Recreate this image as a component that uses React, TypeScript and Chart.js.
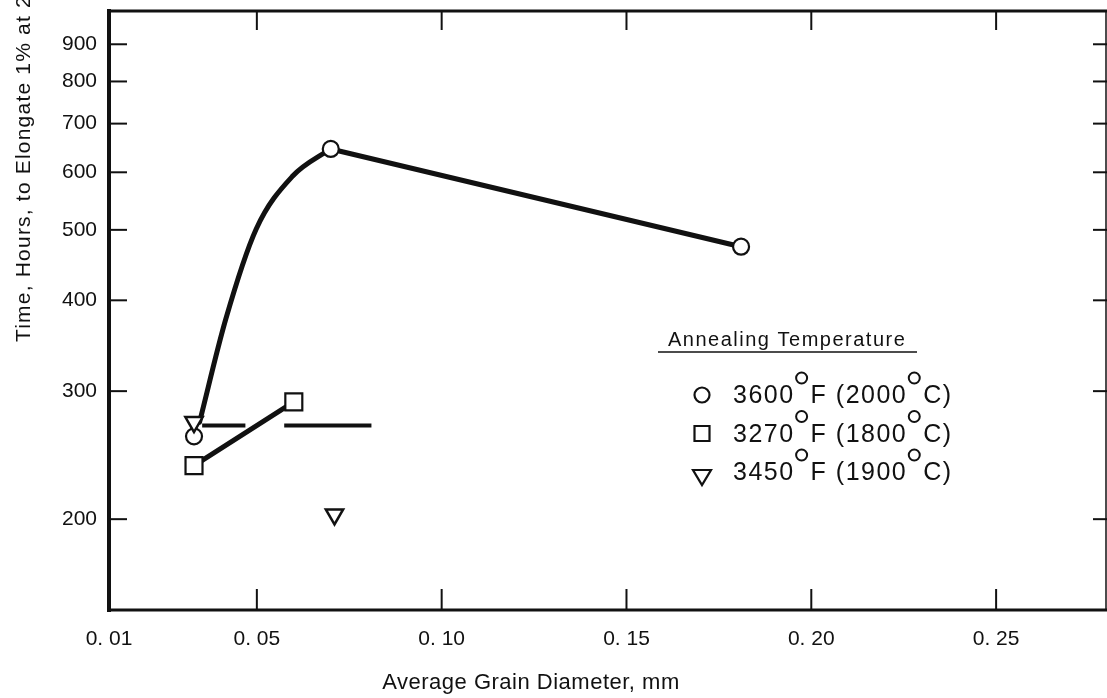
import { useEffect, useRef } from "react";
import { Chart, registerables } from "chart.js";

Chart.register(...registerables);

const FONT = "'Liberation Sans', Arial, sans-serif";
const INK = "#111111";
const CLEAR = "rgba(0,0,0,0)";
const WIDTH = 1107;
const HEIGHT = 698;

// Axis ticks
const xTickValues = [0.01, 0.05, 0.1, 0.15, 0.2, 0.25];
const xTickLabels = ["0. 01", "0. 05", "0. 10", "0. 15", "0. 20", "0. 25"];
const yTickValues = [200, 300, 400, 500, 600, 700, 800, 900];

// 3600°F (2000°C) anneal
const circleX = [0.033, 0.07, 0.181];
const circleY = [260, 646, 474];
// 3270°F (1800°C) anneal
const squareX = [0.033, 0.06];
const squareY = [237, 290];
// 3450°F (1900°C) anneal
const triangleX = [0.033, 0.071];
const triangleY = [272, 203];
// faired curve rising to the 0.07 mm peak
const curveX = [0.0345, 0.0416, 0.0498, 0.0597, 0.0696];
const curveY = [272, 377, 501, 593, 645];
// broken level line at the 3450°F value
const levelX = [0.0352, 0.0469, 0.0574, 0.081];
const levelY = [269, 269, 269, 269];

const legendTitle = "Annealing Temperature";
const legendF = ["3600", "3270", "3450"];
const legendC = ["2000", "1800", "1900"];
const legendMarkers = ["circle", "rect", "triangle"];

const xTitle = "Average Grain Diameter, mm";
const yTitle = "Time, Hours, to Elongate 1% at 2";

const pts = (xs: number[], ys: number[]) => xs.map((x, i) => ({ x, y: ys[i] }));

function seg(ctx: CanvasRenderingContext2D, x1: number, y1: number, x2: number, y2: number, w: number) {
  ctx.lineWidth = w;
  ctx.beginPath();
  ctx.moveTo(x1, y1);
  ctx.lineTo(x2, y2);
  ctx.stroke();
}

function drawMarker(ctx: CanvasRenderingContext2D, kind: string, x: number, y: number) {
  ctx.save();
  ctx.lineWidth = 2.2;
  ctx.fillStyle = "#fff";
  ctx.beginPath();
  if (kind === "circle") {
    ctx.arc(x, y, 7.5, 0, Math.PI * 2);
  } else if (kind === "rect") {
    ctx.rect(x - 7.5, y - 7.5, 15, 15);
  } else {
    ctx.moveTo(x - 9, y - 6);
    ctx.lineTo(x + 9, y - 6);
    ctx.lineTo(x, y + 9);
    ctx.closePath();
  }
  ctx.fill();
  ctx.stroke();
  ctx.restore();
}

function drawDegree(ctx: CanvasRenderingContext2D, x: number, baseline: number) {
  ctx.save();
  ctx.lineWidth = 2;
  ctx.beginPath();
  ctx.arc(x + 7, baseline - 25, 5.5, 0, Math.PI * 2);
  ctx.stroke();
  ctx.restore();
  return x + 16;
}

// keep the plot frame tight to the canvas edges
const noScalePadding = (s: any) => {
  s.paddingTop = 0;
  s.paddingBottom = 0;
  s.paddingLeft = 0;
  s.paddingRight = 0;
};

const decorPlugin = {
  id: "decor",
  afterDraw(chart: any) {
    const { ctx, chartArea: a } = chart;
    const xs = chart.scales.x;
    const ys = chart.scales.y;
    ctx.save();
    ctx.strokeStyle = INK;
    ctx.fillStyle = INK;
    ctx.lineCap = "butt";

    // frame
    seg(ctx, a.left, a.top - 2, a.left, a.bottom + 2, 4);
    seg(ctx, a.left, a.top, a.right, a.top, 3);
    seg(ctx, a.left, a.bottom, a.right, a.bottom, 3);
    seg(ctx, a.right - 1, a.top, a.right - 1, a.bottom, 1.5);

    // inward ticks on all four sides
    for (const v of yTickValues) {
      const y = ys.getPixelForValue(v);
      seg(ctx, a.left, y, a.left + 18, y, 2);
      seg(ctx, a.right - 14, y, a.right, y, 2);
    }
    for (const v of xTickValues.slice(1)) {
      const x = xs.getPixelForValue(v);
      seg(ctx, x, a.top, x, a.top + 19, 2);
      seg(ctx, x, a.bottom, x, a.bottom - 21, 2);
    }

    // axis titles
    ctx.textAlign = "left";
    ctx.textBaseline = "middle";
    ctx.font = `21px ${FONT}`;
    ctx.letterSpacing = "1.2px";
    ctx.save();
    ctx.translate(24, 342);
    ctx.rotate(-Math.PI / 2);
    ctx.fillText(yTitle, 0, 0);
    ctx.restore();

    ctx.textAlign = "center";
    ctx.font = `22px ${FONT}`;
    ctx.letterSpacing = "0.5px";
    ctx.fillText(xTitle, 531, 683);

    // legend
    ctx.textAlign = "left";
    ctx.textBaseline = "alphabetic";
    ctx.font = `20px ${FONT}`;
    ctx.letterSpacing = "1.5px";
    ctx.fillText(legendTitle, 668, 346);
    seg(ctx, 658, 352, 917, 352, 1.5);

    ctx.font = `25px ${FONT}`;
    ctx.letterSpacing = "1.5px";
    legendF.forEach((f, i) => {
      const cy = 394 + i * 38.5;
      const base = cy + 9;
      drawMarker(ctx, legendMarkers[i], 702, legendMarkers[i] === "triangle" ? cy + 5 : cy + 1);
      let x = 733;
      ctx.fillText(f, x, base);
      x += ctx.measureText(f).width;
      x = drawDegree(ctx, x, base);
      const mid = "F (" + legendC[i];
      ctx.fillText(mid, x, base);
      x += ctx.measureText(mid).width;
      x = drawDegree(ctx, x, base);
      ctx.fillText("C)", x, base);
    });

    ctx.restore();
  },
};

export default function App() {
  const canvasRef = useRef<HTMLCanvasElement | null>(null);

  useEffect(() => {
    const canvas = canvasRef.current;
    if (!canvas) return;
    const markerBase = {
      pointBorderWidth: 2.2,
      pointBackgroundColor: "#fff",
      pointBorderColor: INK,
      borderColor: INK,
      borderJoinStyle: "round" as const,
      borderCapStyle: "round" as const,
    };
    const chart = new Chart(canvas, {
      type: "scatter",
      data: {
        datasets: [
          {
            ...markerBase,
            label: "3450°F (1900°C)",
            data: pts(triangleX, triangleY),
            showLine: false,
            pointStyle: "triangle",
            rotation: 180,
            pointRadius: 10,
            pointBorderWidth: 2.5,
            order: 0,
          },
          {
            ...markerBase,
            label: "3600°F (2000°C)",
            data: pts(circleX, circleY),
            showLine: true,
            borderWidth: 5,
            segment: { borderColor: (c: any) => (c.p0DataIndex === 0 ? CLEAR : INK) },
            pointStyle: "circle",
            pointRadius: 8,
            order: 0,
          },
          {
            ...markerBase,
            label: "3270°F (1800°C)",
            data: pts(squareX, squareY),
            showLine: true,
            borderWidth: 5,
            pointStyle: "rect",
            pointRadius: 12,
            order: 0,
          },
          {
            ...markerBase,
            label: "curve",
            data: pts(curveX, curveY),
            showLine: true,
            borderWidth: 5,
            pointRadius: 0,
            cubicInterpolationMode: "monotone",
            tension: 0.4,
            order: 1,
          },
          {
            ...markerBase,
            label: "level",
            data: pts(levelX, levelY),
            showLine: true,
            borderWidth: 4,
            borderCapStyle: "butt",
            pointRadius: 0,
            segment: { borderColor: (c: any) => (c.p0DataIndex === 1 ? CLEAR : INK) },
            order: 1,
          },
        ],
      },
      options: {
        animation: false,
        responsive: false,
        maintainAspectRatio: false,
        layout: { autoPadding: false, padding: { top: 11, right: 0, bottom: 0, left: 0 } },
        plugins: { legend: { display: false }, tooltip: { enabled: false } },
        scales: {
          x: {
            type: "linear",
            min: 0.01,
            max: 0.28,
            grid: { display: false, drawTicks: false },
            border: { display: false },
            afterBuildTicks: (s: any) => {
              s.ticks = xTickValues.map((value) => ({ value }));
            },
            afterFit: (s: any) => {
              s.height = 88;
              noScalePadding(s);
            },
            ticks: {
              autoSkip: false,
              maxRotation: 0,
              padding: 17,
              color: INK,
              font: { family: FONT, size: 21 },
              callback: (_v: any, i: number) => xTickLabels[i],
            },
          },
          y: {
            type: "logarithmic",
            min: 150,
            max: 1000,
            grid: { display: false, drawTicks: false },
            border: { display: false },
            afterBuildTicks: (s: any) => {
              s.ticks = yTickValues.map((value) => ({ value }));
            },
            afterFit: (s: any) => {
              s.width = 109;
              noScalePadding(s);
            },
            ticks: {
              autoSkip: false,
              padding: 12,
              color: INK,
              font: { family: FONT, size: 21 },
              callback: (v: any) => String(v),
            },
          },
        },
      },
      plugins: [decorPlugin],
    });
    return () => chart.destroy();
  }, []);

  return (
    <div
      style={{
        position: "absolute",
        left: 0,
        top: 0,
        width: WIDTH,
        height: HEIGHT,
        overflow: "hidden",
        background: "#fff",
      }}
    >
      <canvas ref={canvasRef} width={WIDTH} height={HEIGHT} style={{ display: "block" }} />
    </div>
  );
}
